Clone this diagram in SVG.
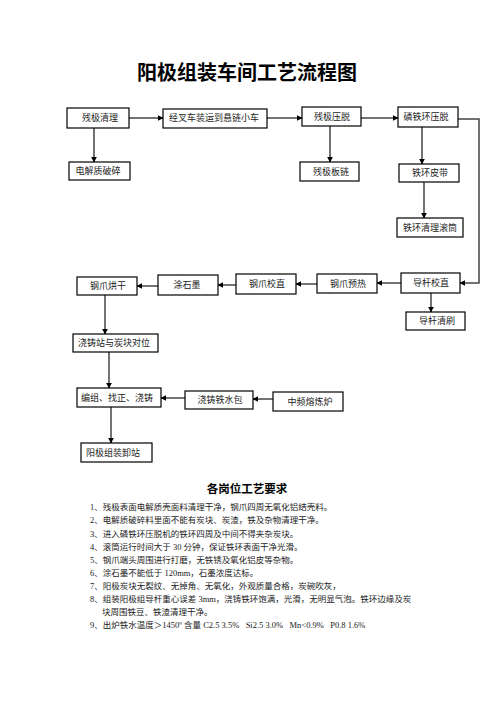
<svg xmlns="http://www.w3.org/2000/svg" width="496" height="702" viewBox="0 0 496 702">
<style>
.box{fill:#fff;stroke:#000;stroke-width:1.2}
.lbl{font-family:"Liberation Serif","Noto Sans CJK SC",serif;font-size:9px;fill:#222;text-anchor:middle}
.con{fill:none;stroke:#444;stroke-width:1.5}
.title{font-family:"Noto Sans CJK SC",sans-serif;font-size:20px;font-weight:bold;fill:#000;text-anchor:middle}
.h2{font-family:"Noto Sans CJK SC",sans-serif;font-size:11.5px;font-weight:bold;fill:#000;text-anchor:middle}
.req{font-family:"Liberation Serif","Noto Sans CJK SC",serif;font-size:8.5px;fill:#222;white-space:pre}
</style>
<defs>
<marker id="ah" viewBox="0 0 10 10" refX="9" refY="5" markerWidth="4" markerHeight="4" orient="auto" markerUnits="strokeWidth">
<path d="M0,0 L10,5 L0,10 z" fill="#000"/>
</marker>
</defs>
<rect width="496" height="702" fill="#fff"/>
<text class="title" x="247" y="80">阳极组装车间工艺流程图</text>

<g id="connectors">
<path class="con" marker-end="url(#ah)" d="M129,118 H163"/>
<path class="con" marker-end="url(#ah)" d="M267,118 H302"/>
<path class="con" marker-end="url(#ah)" d="M361,118 H398"/>
<path class="con" marker-end="url(#ah)" d="M94,128 V162"/>
<path class="con" marker-end="url(#ah)" d="M330,126 V162"/>
<path class="con" marker-end="url(#ah)" d="M422,127 V164"/>
<path class="con" marker-end="url(#ah)" d="M424,182 V218"/>
<path class="con" marker-end="url(#ah)" d="M458,119 H479 V283 H460"/>
<path class="con" marker-end="url(#ah)" d="M401,283 H377"/>
<path class="con" marker-end="url(#ah)" d="M317,284 H296"/>
<path class="con" marker-end="url(#ah)" d="M236,285 H218"/>
<path class="con" marker-end="url(#ah)" d="M158,286 H137"/>
<path class="con" marker-end="url(#ah)" d="M431,293 V312"/>
<path class="con" marker-end="url(#ah)" d="M105,295 V334"/>
<path class="con" marker-end="url(#ah)" d="M109,352 V388"/>
<path class="con" marker-end="url(#ah)" d="M185,398 H161"/>
<path class="con" marker-end="url(#ah)" d="M273,399 H253"/>
<path class="con" marker-end="url(#ah)" d="M111,407 V443"/>
</g>

<g id="n1"><rect class="box" x="67" y="108" width="62" height="20"/><text class="lbl" x="100" y="121">残极清理</text></g>
<g id="n2"><rect class="box" x="163" y="109" width="104" height="19"/><text class="lbl" x="214" y="121">经叉车装运到悬链小车</text></g>
<g id="n3"><rect class="box" x="302" y="107" width="59" height="19"/><text class="lbl" x="332" y="120">残极压脱</text></g>
<g id="n4"><rect class="box" x="398" y="107" width="60" height="20"/><text class="lbl" x="426" y="120">磷铁环压脱</text></g>
<g id="n5"><rect class="box" x="69" y="162" width="61" height="18"/><text class="lbl" x="98" y="174">电解质破碎</text></g>
<g id="n6"><rect class="box" x="300" y="162" width="59" height="19"/><text class="lbl" x="331" y="175">残极板链</text></g>
<g id="n7"><rect class="box" x="399" y="164" width="60" height="18"/><text class="lbl" x="430" y="176">铁环皮带</text></g>
<g id="n8"><rect class="box" x="397" y="218" width="66" height="19"/><text class="lbl" x="430" y="231">铁环清理滚筒</text></g>
<g id="n9"><rect class="box" x="77" y="277" width="60" height="18"/><text class="lbl" x="108" y="289">钢爪烘干</text></g>
<g id="n10"><rect class="box" x="158" y="275" width="60" height="20"/><text class="lbl" x="187" y="288">涂石墨</text></g>
<g id="n11"><rect class="box" x="236" y="274" width="60" height="20"/><text class="lbl" x="267" y="287">钢爪校直</text></g>
<g id="n12"><rect class="box" x="317" y="274" width="60" height="19"/><text class="lbl" x="348" y="287">钢爪预热</text></g>
<g id="n13"><rect class="box" x="401" y="273" width="59" height="20"/><text class="lbl" x="431" y="286">导杆校直</text></g>
<g id="n14"><rect class="box" x="406" y="312" width="59" height="18"/><text class="lbl" x="437" y="324">导杆清刷</text></g>
<g id="n15"><rect class="box" x="73" y="334" width="85" height="18"/><text class="lbl" x="114" y="346">浇铸站与炭块对位</text></g>
<g id="n16"><rect class="box" x="77" y="388" width="84" height="19"/><text class="lbl" x="117" y="401">编组、找正、浇铸</text></g>
<g id="n17"><rect class="box" x="185" y="391" width="68" height="18"/><text class="lbl" x="220" y="403">浇铸铁水包</text></g>
<g id="n18"><rect class="box" x="273" y="392" width="70" height="19"/><text class="lbl" x="310" y="405">中频熔炼炉</text></g>
<g id="n19"><rect class="box" x="81" y="443" width="71" height="19"/><text class="lbl" x="113" y="456">阳极组装卸站</text></g>

<text class="h2" x="247" y="493">各岗位工艺要求</text>
<g id="requirements">
<text class="req" x="90" y="510">1、残极表面电解质壳面料清理干净，钢爪四周无氧化铝结壳料。</text>
<text class="req" x="90" y="523">2、电解质破碎料里面不能有炭块、炭渣，铁及杂物清理干净。</text>
<text class="req" x="90" y="537">3、进入磷铁环压脱机的铁环四周及中间不得夹杂炭块。</text>
<text class="req" x="90" y="550">4、滚筒运行时间大于 30 分钟，保证铁环表面干净光滑。</text>
<text class="req" x="90" y="563">5、钢爪端头周围进行打磨，无铁锈及氧化铝皮等杂物。</text>
<text class="req" x="90" y="576">6、涂石墨不能低于 120mm，石墨浓度达标。</text>
<text class="req" x="90" y="589">7、阳极炭块无裂纹、无掉角、无氧化，外观质量合格，炭碗吹灰，</text>
<text class="req" x="90" y="602">8、组装阳极组导杆重心误差 3mm，浇铸铁环饱满，光滑，无明显气泡。铁环边缘及炭</text>
<text class="req" x="102" y="615">块周围铁豆、铁渣清理干净。</text>
<text class="req" x="90" y="628" xml:space="preserve">9、出炉铁水温度＞1450º 含量 C2.5 3.5%   Si2.5 3.0%   Mn&lt;0.9%   P0.8 1.6%</text>
</g>
</svg>
